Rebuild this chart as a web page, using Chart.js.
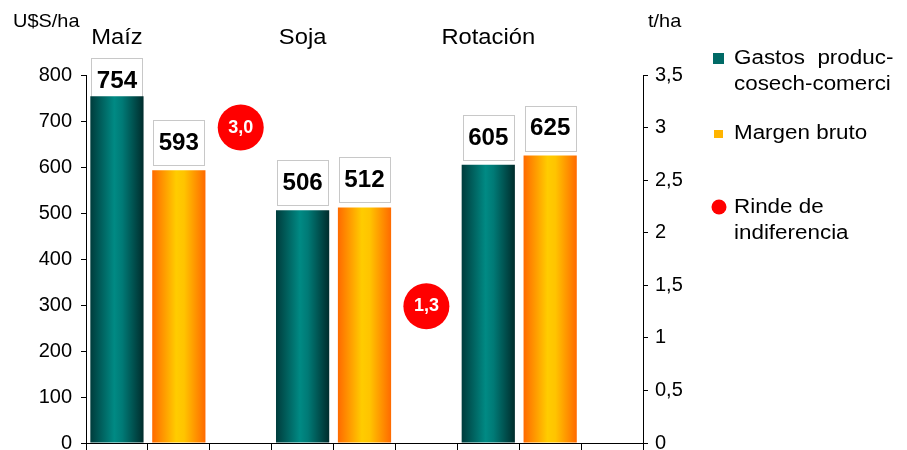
<!DOCTYPE html>
<html>
<head>
<meta charset="utf-8">
<script src="https://cdn.jsdelivr.net/npm/chart.js@4/dist/chart.umd.min.js"></script>
<style>
  body { margin: 0; background: #fff; }
  canvas { display: block; }
</style>
</head>
<body>
<canvas id="chart" width="907" height="450"></canvas>
<script>
// values
const groups = ['Maíz', 'Soja', 'Rotación'];
const gastos = [754, 506, 605];       // U$S/ha
const margen = [593, 512, 625];       // U$S/ha
const rinde = [3.0, 1.3, null];       // t/ha
const leftTicks = [0, 100, 200, 300, 400, 500, 600, 700, 800];
const rightTicks = [0, 0.5, 1, 1.5, 2, 2.5, 3, 3.5];

const FONT = 'Liberation Sans, Arial, sans-serif';
const BAR_PCT = 0.86;

// each group takes three slots: gastos, margen, rinde
const labels = [];
const gastosSlots = [];
const margenSlots = [];
const rindeSlots = [];
groups.forEach((g, i) => {
  labels.push(g, '', '');
  gastosSlots.push(gastos[i], null, null);
  margenSlots.push(null, margen[i], null);
  rindeSlots.push(null, null, rinde[i]);
});

const fmt = v => String(v).replace('.', ',');

function barGradient(ctx, stops, solid) {
  const chart = ctx.chart;
  const xs = chart.scales.x;
  if (!chart.chartArea || !xs) return solid;
  const cx = xs.getPixelForValue(ctx.dataIndex);
  const w = xs.width / labels.length * BAR_PCT;
  const g = chart.ctx.createLinearGradient(cx - w / 2, 0, cx + w / 2, 0);
  stops.forEach(s => g.addColorStop(s[0], s[1]));
  return g;
}

const tealStops = [[0, '#003c3c'], [0.45, '#008a84'], [0.6, '#007a76'], [1, '#002c2c']];
const orangeStops = [[0, '#ff6a00'], [0.45, '#ffcc00'], [0.6, '#ffc400'], [1, '#ff6a00']];

// slightly wide text, like the original
function wideText(c, txt, x, y, sx) {
  c.save();
  c.translate(x, y);
  c.scale(sx, 1);
  c.fillText(txt, 0, 0);
  c.restore();
}

const valueBoxes = {
  id: 'valueBoxes',
  // boxes with values above the bars (drawn under the bars)
  beforeDatasetsDraw(chart) {
    const c = chart.ctx;
    [0, 1].forEach(di => {
      const meta = chart.getDatasetMeta(di);
      meta.data.forEach((bar, i) => {
        const v = chart.data.datasets[di].data[i];
        if (v == null) return;
        const w = 51, h = 45;
        let top = bar.y - 5 - h;
        if (top < 58) top = 58;
        c.save();
        c.fillStyle = '#fff';
        c.strokeStyle = '#c8c8c8';
        c.lineWidth = 1;
        c.fillRect(bar.x - w / 2, top, w, h);
        c.strokeRect(Math.round(bar.x - w / 2) + 0.5, Math.round(top) + 0.5, w, h);
        c.fillStyle = '#000';
        c.font = 'bold 23px ' + FONT;
        c.textAlign = 'center';
        c.textBaseline = 'middle';
        wideText(c, String(v), bar.x, top + h / 2 + 1, 1.05);
        c.restore();
      });
    });
  },
  afterDatasetsDraw(chart) {
    const c = chart.ctx;
    const meta = chart.getDatasetMeta(2);
    meta.data.forEach((pt, i) => {
      const v = chart.data.datasets[2].data[i];
      if (v == null) return;
      c.save();
      c.fillStyle = '#fff';
      c.font = 'bold 18px ' + FONT;
      c.textAlign = 'center';
      c.textBaseline = 'middle';
      c.fillText(v.toFixed(1).replace('.', ','), pt.x, pt.y);
      c.restore();
    });
  },
  afterDraw(chart) {
    const c = chart.ctx;
    const xs = chart.scales.x;
    c.save();
    c.fillStyle = '#000';
    c.textBaseline = 'middle';
    // axis units
    c.font = '19px ' + FONT;
    c.textAlign = 'left';
    wideText(c, 'U$S/ha', 13, 22, 1.05);
    wideText(c, 't/ha', 648, 22, 1.05);
    // group names
    c.font = '22px ' + FONT;
    c.textAlign = 'center';
    groups.forEach((g, i) => {
      wideText(c, g, xs.getPixelForValue(i * 3), 38, 1.08);
    });
    // legend
    c.font = '20px ' + FONT;
    c.textAlign = 'left';
    const tx = 734, sx = 1.12;
    c.fillStyle = '#006a66';
    c.fillRect(713, 53, 11, 11);
    c.fillStyle = '#000';
    wideText(c, 'Gastos  produc-', tx, 58, sx);
    wideText(c, 'cosech-comerci', tx, 84, sx);
    c.fillStyle = '#ffb400';
    c.fillRect(714, 130, 9, 8);
    c.fillStyle = '#000';
    wideText(c, 'Margen bruto', tx, 133, sx);
    c.fillStyle = '#ff0000';
    c.beginPath();
    c.arc(719, 207, 7.5, 0, Math.PI * 2);
    c.fill();
    c.fillStyle = '#000';
    wideText(c, 'Rinde de', tx, 207, sx);
    wideText(c, 'indiferencia', tx, 233, sx);
    c.restore();
  }
};

const noPad = s => { s.paddingTop = 0; s.paddingBottom = 0; };

new Chart(document.getElementById('chart'), {
  type: 'bar',
  data: {
    labels: labels,
    datasets: [
      {
        label: 'Gastos produc-cosech-comerci',
        data: gastosSlots,
        yAxisID: 'y',
        grouped: false,
        barPercentage: BAR_PCT,
        categoryPercentage: 1,
        backgroundColor: ctx => barGradient(ctx, tealStops, '#007070'),
        order: 2
      },
      {
        label: 'Margen bruto',
        data: margenSlots,
        yAxisID: 'y',
        grouped: false,
        barPercentage: BAR_PCT,
        categoryPercentage: 1,
        backgroundColor: ctx => barGradient(ctx, orangeStops, '#ffaa00'),
        order: 2
      },
      {
        type: 'line',
        label: 'Rinde de indiferencia',
        data: rindeSlots,
        yAxisID: 'y1',
        showLine: false,
        pointRadius: 23,
        pointHoverRadius: 23,
        pointBackgroundColor: '#ff0000',
        pointBorderWidth: 0,
        order: 1
      }
    ]
  },
  options: {
    responsive: false,
    animation: false,
    devicePixelRatio: 1,
    layout: { autoPadding: false, padding: { top: 75, right: 214, bottom: 0, left: 0 } },
    plugins: {
      legend: { display: false },
      tooltip: { enabled: false }
    },
    scales: {
      x: {
        offset: true,
        grid: { offset: true, drawOnChartArea: false, color: '#000', tickLength: 7 },
        border: { color: '#000' },
        ticks: { display: false },
        afterFit: s => { s.height = 7; s.paddingLeft = 0; s.paddingRight = 0; }
      },
      y: {
        position: 'left',
        min: 0,
        max: 800,
        afterBuildTicks: s => { s.ticks = leftTicks.map(v => ({ value: v })); },
        grid: { drawOnChartArea: false, color: '#000', tickLength: 5 },
        border: { color: '#000' },
        ticks: { color: '#000', padding: 9, font: { family: FONT, size: 20 } },
        afterFit: s => { s.width = 86; noPad(s); }
      },
      y1: {
        position: 'right',
        min: 0,
        max: 3.5,
        afterBuildTicks: s => { s.ticks = rightTicks.map(v => ({ value: v })); },
        grid: { drawOnChartArea: false, color: '#000', tickLength: 5 },
        border: { color: '#000' },
        ticks: { color: '#000', padding: 7, font: { family: FONT, size: 20 }, callback: v => fmt(v) },
        afterFit: s => { s.width = 50; noPad(s); }
      }
    }
  },
  plugins: [valueBoxes]
});
</script>
</body>
</html>
